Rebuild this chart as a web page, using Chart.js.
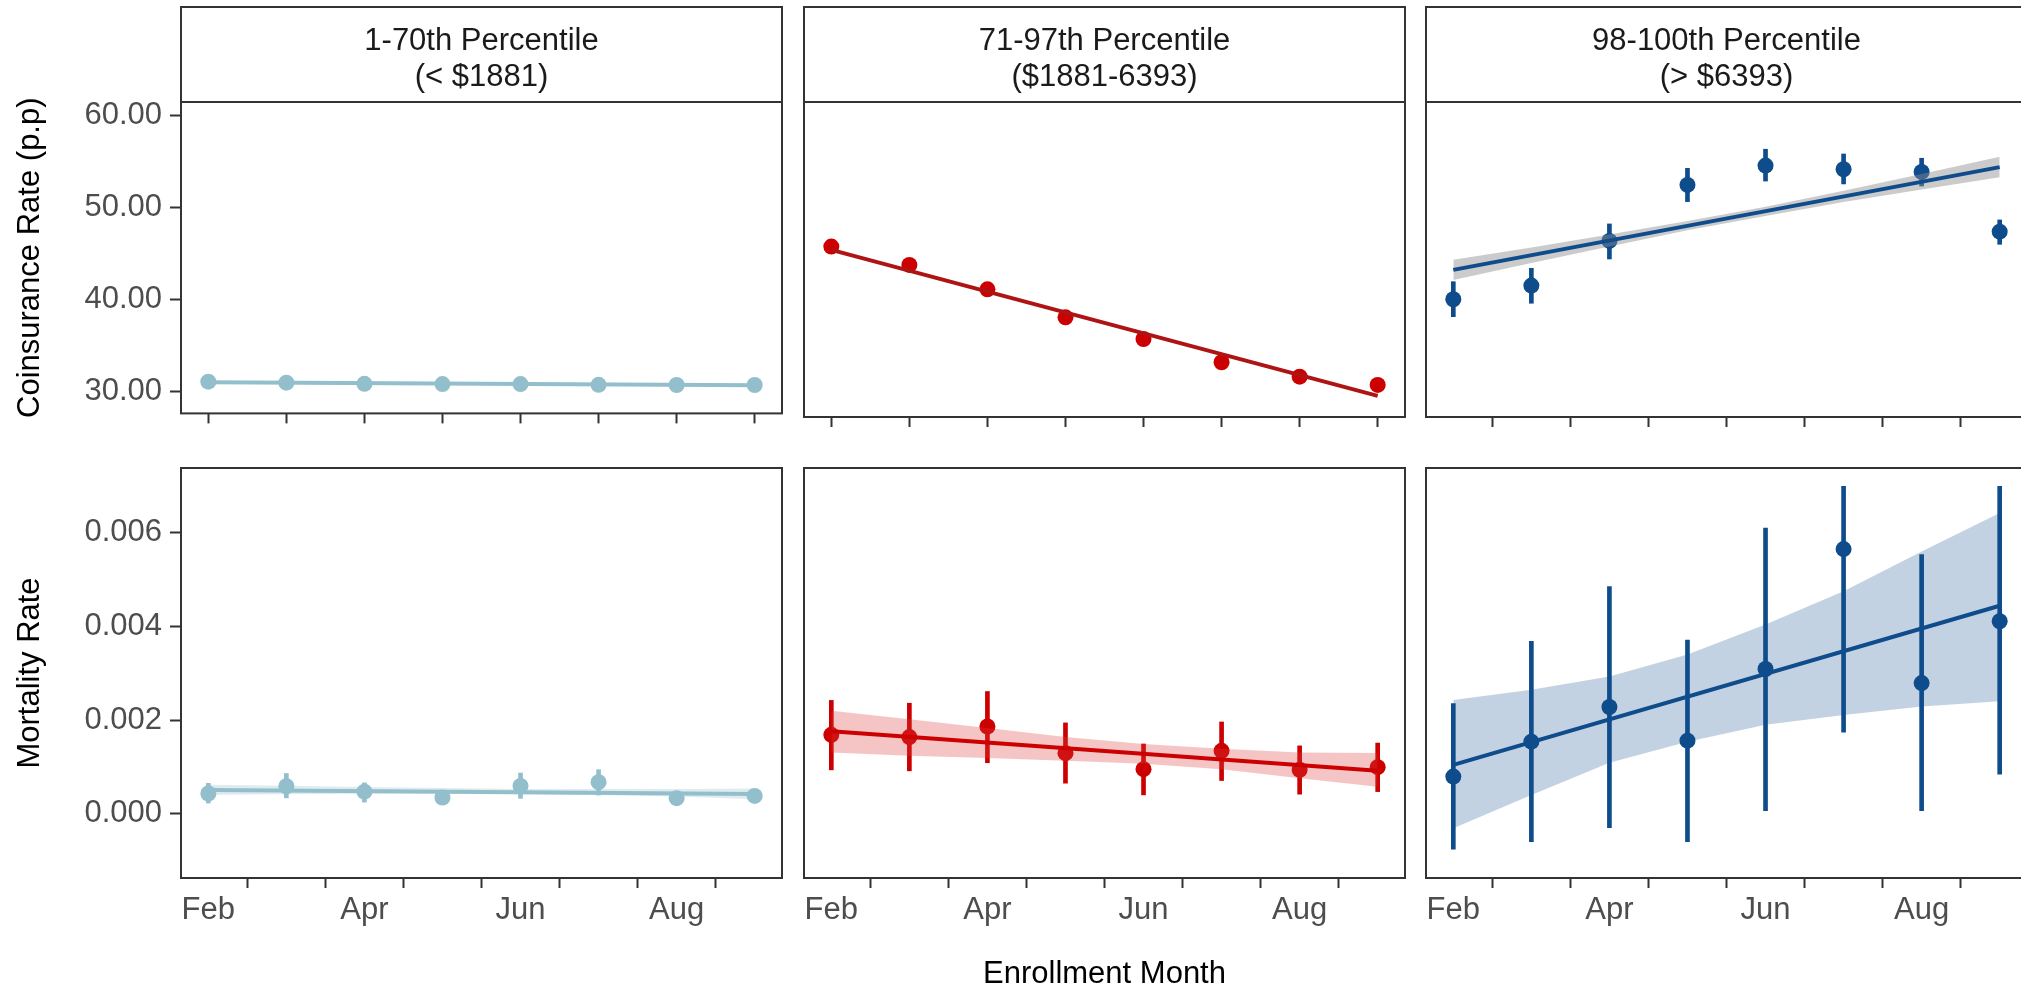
<!DOCTYPE html>
<html>
<head>
<meta charset="utf-8">
<script src="https://cdn.jsdelivr.net/npm/chart.js@4.4.1/dist/chart.umd.min.js"></script>
<style>
  html, body { margin: 0; padding: 0; background: #ffffff; overflow: hidden; }
  body { width: 2021px; height: 990px; position: relative; }
  canvas { position: absolute; }
</style>
</head>
<body>
<canvas id="c00" width="790" height="440" style="left:0px;top:0px"></canvas>
<canvas id="c01" width="617" height="440" style="left:796px;top:0px"></canvas>
<canvas id="c02" width="617" height="440" style="left:1418px;top:0px"></canvas>
<canvas id="c10" width="790" height="560" style="left:0px;top:440px"></canvas>
<canvas id="c11" width="617" height="560" style="left:796px;top:440px"></canvas>
<canvas id="c12" width="617" height="560" style="left:1418px;top:440px"></canvas>
<script>
// months on the x axis (Feb = 1 ... Sep = 8)
const monthPos = [1, 2, 3, 4, 5, 6, 7, 8]
const monthLabels = ['Feb', '', 'Apr', '', 'Jun', '', 'Aug', '']

const stripTitles = [
    ['1-70th Percentile', '(< $1881)'],
    ['71-97th Percentile', '($1881-6393)'],
    ['98-100th Percentile', '(> $6393)']
]

const coinsTicks = [30, 40, 50, 60]
const mortTicks = [0, 0.002, 0.004, 0.006]

// coinsurance rate (p.p)
const coinsLow = [31.08, 30.97, 30.85, 30.82, 30.82, 30.74, 30.72, 30.72]
const coinsLowFit = [31.03, 30.68]

const coinsMid = [45.95, 43.98, 41.36, 38.35, 36.02, 33.52, 31.97, 31.08]
const coinsMidFit = [45.6, 29.9]

const coinsHigh = [40.29, 41.76, 46.56, 52.58, 54.66, 54.27, 53.98, 47.56]
const coinsHighLo = [38.42, 39.86, 44.62, 50.79, 53.0, 52.69, 52.47, 46.2]
const coinsHighHi = [42.18, 43.62, 48.39, 54.37, 56.42, 55.91, 55.45, 48.82]
const coinsHighFit = [43.45, 54.5]
const coinsHighBandHi = [44.55, 45.85, 47.25, 48.7, 50.25, 51.95, 53.75, 55.6]
const coinsHighBandLo = [42.35, 44.2, 45.95, 47.7, 49.25, 50.75, 52.1, 53.4]

// mortality rate
const mortLow = [0.000434, 0.000588, 0.000472, 0.000346, 0.000596, 0.000675, 0.000333, 0.000382]
const mortLowLo = [0.00023, 0.00034, 0.00025, 0.00022, 0.00033, 0.0004, 0.0002, 0.00025]
const mortLowHi = [0.00065, 0.00086, 0.00066, 0.00047, 0.00087, 0.00094, 0.00046, 0.00052]
const mortLowFit = [0.00051, 0.000425]
const mortLowBandHi = [0.00062, 0.0006, 0.00057, 0.00055, 0.00053, 0.00053, 0.00053, 0.00054]
const mortLowBandLo = [0.0004, 0.00042, 0.00043, 0.00043, 0.00042, 0.0004, 0.00037, 0.00031]

const mortMid = [0.001686, 0.001637, 0.001863, 0.001295, 0.000953, 0.001344, 0.000938, 0.000996]
const mortMidLo = [0.000938, 0.000917, 0.00109, 0.000654, 0.000404, 0.00071, 0.000419, 0.000474]
const mortMidHi = [0.00242, 0.00236, 0.00261, 0.00194, 0.00149, 0.00196, 0.00145, 0.00151]
const mortMidFit = [0.00176, 0.00092]
const mortMidBandHi = [0.0022, 0.00202, 0.00183, 0.00164, 0.00149, 0.00139, 0.00131, 0.0013]
const mortMidBandLo = [0.00131, 0.00124, 0.00119, 0.00113, 0.00107, 0.00095, 0.00076, 0.00058]

const mortHigh = [0.000795, 0.00154, 0.00228, 0.00156, 0.00309, 0.00565, 0.00279, 0.00411]
const mortHighLo = [-0.000756, -0.000594, -0.000295, -0.000594, 0.000068, 0.00174, 0.000068, 0.000846]
const mortHighHi = [0.00235, 0.00368, 0.00485, 0.00371, 0.0061, 0.00699, 0.00553, 0.00699]
const mortHighFit = [0.001045, 0.00444]
const mortHighBandHi = [0.00243, 0.00265, 0.00293, 0.0034, 0.00404, 0.00475, 0.0056, 0.00642]
const mortHighBandLo = [-0.00031, 0.0004, 0.00109, 0.00154, 0.0019, 0.00211, 0.00229, 0.0024]

const lightBlue = '#93BFCC'
const red = '#CC0000'
const navy = '#0F4C8C'

Chart.defaults.font.family = '"Liberation Sans", Arial, Helvetica, sans-serif'
Chart.defaults.font.size = 31
Chart.defaults.animation = false

const panelFrame = {
    id: 'panelFrame',
    afterDraw(chart, args, opts) {
        const ctx = chart.ctx
        const a = chart.chartArea
        ctx.save()
        ctx.strokeStyle = '#333333'
        ctx.lineWidth = 2
        ctx.strokeRect(a.left, a.top, a.right - a.left, a.bottom - a.top)
        if (opts.strip) {
            ctx.strokeRect(a.left, 7, a.right - a.left, a.top - 7)
            ctx.fillStyle = '#1A1A1A'
            ctx.font = '31px "Liberation Sans", Arial, Helvetica, sans-serif'
            ctx.textAlign = 'center'
            ctx.textBaseline = 'alphabetic'
            const cx = (a.left + a.right) / 2
            ctx.fillText(opts.strip[0], cx, 49.5)
            ctx.fillText(opts.strip[1], cx, 86)
        }
        ctx.restore()
    }
}

function toPoints(vals) {
    return vals.map((v, i) => ({ x: monthPos[i], y: v }))
}

function makePanel(id, p) {
    const datasets = []
    if (p.lo) {
        datasets.push({
            type: 'bar',
            data: p.lo.map((v, i) => ({ x: monthPos[i], y: [v, p.hi[i]] })),
            backgroundColor: p.color,
            borderWidth: 0,
            barThickness: 4,
            order: 3
        })
    }
    datasets.push({
        type: 'scatter',
        data: toPoints(p.y),
        pointRadius: 8,
        pointBackgroundColor: p.color,
        pointBorderWidth: 0,
        order: 2
    })
    if (p.bandHi) {
        datasets.push({
            type: 'line',
            data: toPoints(p.bandHi),
            borderColor: 'transparent',
            borderWidth: 0,
            pointRadius: 0,
            backgroundColor: p.band,
            fill: '+1',
            order: 1
        })
        datasets.push({
            type: 'line',
            data: toPoints(p.bandLo),
            borderColor: 'transparent',
            borderWidth: 0,
            pointRadius: 0,
            fill: false,
            order: 1
        })
    }
    datasets.push({
        type: 'line',
        data: [{ x: monthPos[0], y: p.fit[0] }, { x: monthPos[7], y: p.fit[1] }],
        borderColor: p.lineColor || p.color,
        borderWidth: 4,
        pointRadius: 0,
        fill: false,
        order: 0
    })

    return new Chart(document.getElementById(id), {
        type: 'scatter',
        data: { datasets: datasets },
        options: {
            responsive: false,
            layout: { padding: p.padding },
            plugins: {
                legend: { display: false },
                tooltip: { enabled: false },
                panelFrame: { strip: p.strip }
            },
            scales: {
                x: {
                    type: 'linear',
                    min: 0.65,
                    max: 8.35,
                    offset: false,
                    afterBuildTicks: s => { s.ticks = monthPos.map(v => ({ value: v })) },
                    afterFit: s => { s.height = p.xHeight },
                    border: { display: false },
                    grid: { drawOnChartArea: false, tickLength: 10, tickWidth: 2, tickColor: '#333333' },
                    ticks: {
                        autoSkip: false,
                        maxRotation: 0,
                        padding: 4,
                        color: '#4D4D4D',
                        callback: (v, i) => p.bottom ? monthLabels[i] : ''
                    },
                    title: {
                        display: !!p.xTitle,
                        text: p.xTitle || '',
                        color: '#000000',
                        padding: { top: 0, bottom: 0 }
                    }
                },
                y: {
                    type: 'linear',
                    display: !!p.yTitle,
                    min: p.yMin,
                    max: p.yMax,
                    afterBuildTicks: s => { s.ticks = p.yTicks.map(v => ({ value: v })) },
                    afterFit: s => { s.width = p.yTitle ? 181 : 0 },
                    border: { display: false },
                    grid: { drawOnChartArea: false, tickLength: 11, tickWidth: 2, tickColor: '#333333' },
                    ticks: {
                        padding: 8,
                        color: '#4D4D4D',
                        callback: v => v.toFixed(p.digits)
                    },
                    title: {
                        display: !!p.yTitle,
                        text: p.yTitle || '',
                        color: '#000000',
                        padding: { top: 12, bottom: 0 }
                    }
                }
            }
        },
        plugins: [panelFrame]
    })
}

const topRow = { yMin: 27.63, yMax: 61.5, yTicks: coinsTicks, digits: 2, xHeight: 23, bottom: false }
const bottomRow = { yMin: -0.00137, yMax: 0.00738, yTicks: mortTicks, digits: 3, xHeight: 115, bottom: true }

makePanel('c00', Object.assign({}, topRow, {
    padding: { top: 102, right: 8, left: 0, bottom: 0 },
    strip: stripTitles[0], yTitle: 'Coinsurance Rate (p.p)',
    y: coinsLow, fit: coinsLowFit, color: lightBlue
}))
makePanel('c01', Object.assign({}, topRow, {
    padding: { top: 102, right: 8, left: 8, bottom: 0 },
    strip: stripTitles[1],
    y: coinsMid, fit: coinsMidFit, color: red, lineColor: '#AE1414'
}))
makePanel('c02', Object.assign({}, topRow, {
    padding: { top: 102, right: 8, left: 8, bottom: 0 },
    strip: stripTitles[2],
    y: coinsHigh, lo: coinsHighLo, hi: coinsHighHi, fit: coinsHighFit,
    bandHi: coinsHighBandHi, bandLo: coinsHighBandLo, band: 'rgba(140,140,140,0.45)', color: navy
}))

makePanel('c10', Object.assign({}, bottomRow, {
    padding: { top: 28, right: 8, left: 0, bottom: 7 },
    yTitle: 'Mortality Rate',
    y: mortLow, lo: mortLowLo, hi: mortLowHi, fit: mortLowFit,
    bandHi: mortLowBandHi, bandLo: mortLowBandLo, band: 'rgba(147,191,204,0.3)', color: lightBlue
}))
makePanel('c11', Object.assign({}, bottomRow, {
    padding: { top: 28, right: 8, left: 8, bottom: 7 },
    xTitle: 'Enrollment Month',
    y: mortMid, lo: mortMidLo, hi: mortMidHi, fit: mortMidFit,
    bandHi: mortMidBandHi, bandLo: mortMidBandLo, band: 'rgba(221,60,60,0.3)', color: red
}))
makePanel('c12', Object.assign({}, bottomRow, {
    padding: { top: 28, right: 8, left: 8, bottom: 7 },
    y: mortHigh, lo: mortHighLo, hi: mortHighHi, fit: mortHighFit,
    bandHi: mortHighBandHi, bandLo: mortHighBandLo, band: 'rgba(15,76,140,0.25)', color: navy
}))
</script>
</body>
</html>
